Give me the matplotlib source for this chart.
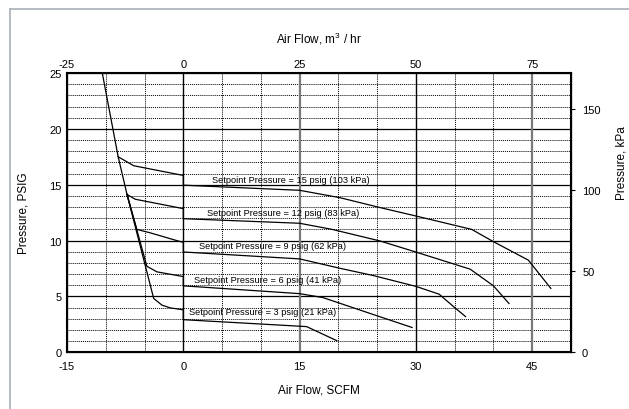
import matplotlib
matplotlib.use("Agg")
import matplotlib.pyplot as plt
from matplotlib.lines import Line2D

plt.rcParams['font.family'] = ['Liberation Sans', 'DejaVu Sans']
plt.rcParams['mathtext.fontset'] = 'custom'
plt.rcParams['mathtext.rm'] = 'Liberation Sans'
plt.rcParams['mathtext.it'] = 'Liberation Sans'
plt.rcParams['axes.unicode_minus'] = False

# ---- data (Air flow SCFM, pressure PSIG) ----
sp15_x = [-10.45, -8.4, -6.4, 0, 0, 15, 20.2, 25.4, 30, 37.2, 40, 44.5, 47.4]
sp15_y = [25, 17.5, 16.7, 15.83, 14.96, 14.5, 13.84, 12.95, 12.2, 11.0, 9.9, 8.25, 5.72]

sp12_x = [-8.4, -7.26, -6.2, 0, 0, 15, 19.2, 25.4, 30.1, 37, 40, 42]
sp12_y = [17.5, 14.13, 13.7, 12.86, 11.96, 11.55, 11.0, 9.96, 8.95, 7.44, 5.95, 4.37]

sp9_x = [-7.26, -6.0, -4.3, -0.6, 0, 0, 15, 20.2, 24.5, 30, 33, 35, 36.4]
sp9_y = [14.13, 11.0, 10.7, 9.95, 9.85, 8.98, 8.36, 7.52, 6.87, 5.9, 5.2, 4.0, 3.2]

sp6_x = [-7.26, -4.7, -3.4, 0, 0, 15, 18, 23.7, 29.5]
sp6_y = [14.13, 7.7, 7.2, 6.78, 5.95, 5.25, 4.9, 3.57, 2.22]

sp3_x = [-7.26, -3.82, -2.75, -1.7, 0, 0, 15.9, 19.8]
sp3_y = [14.13, 4.82, 4.22, 3.98, 3.8, 2.92, 2.3, 1.04]

series_x = [sp15_x, sp12_x, sp9_x, sp6_x, sp3_x]
series_y = [sp15_y, sp12_y, sp9_y, sp6_y, sp3_y]

labels = ["Setpoint Pressure = 15 psig (103 kPa)",
          "Setpoint Pressure = 12 psig (83 kPa)",
          "Setpoint Pressure = 9 psig (62 kPa)",
          "Setpoint Pressure = 6 psig (41 kPa)",
          "Setpoint Pressure = 3 psig (21 kPa)"]
label_x = [13.9, 12.85, 11.47, 10.82, 10.18]
label_y = [15.47, 12.5, 9.58, 6.54, 3.63]

x_ticks = [-15, 0, 15, 30, 45]
y_ticks = [0, 5, 10, 15, 20, 25]
top_ticks = [-25, 0, 25, 50, 75]
right_ticks = [0, 50, 100, 150]

XMIN, XMAX = -15, 50
YMIN, YMAX = 0, 25
M3_PER_SCFM = 25 / 15
KPA_PER_PSI = 6.895

fig = plt.figure(figsize=(6.29, 4.10), dpi=100)
# outer frame
fig.add_artist(Line2D([10/629, 10/629], [0, 1 - 10/410], color='#a9b0b8', lw=1.2, transform=fig.transFigure))
fig.add_artist(Line2D([10/629, 1], [1 - 10/410, 1 - 10/410], color='#a9b0b8', lw=1.2, transform=fig.transFigure))

ax = fig.add_axes([67/629, 1 - 353.3/410, (571 - 67)/629, (353.3 - 74)/410])
ax.set_xlim(XMIN, XMAX)
ax.set_ylim(YMIN, YMAX)

# grid
for yv in range(1, 25):
    if yv % 5 == 0:
        ax.axhline(yv, color='black', lw=0.9, zorder=1)
    else:
        ax.axhline(yv, color='black', lw=0.7, ls=(0, (1, 1)), zorder=1)
for xv in range(-10, 50, 5):
    if xv in (0, 30):
        ax.axvline(xv, color='black', lw=1.0, zorder=1)
    elif xv in (15, 45):
        ax.axvline(xv, color='#7a7a7a', lw=1.6, zorder=1)
    else:
        ax.axvline(xv, color='black', lw=0.7, ls=(0, (1, 1)), zorder=1)

for xs, ys in zip(series_x, series_y):
    ax.plot(xs, ys, color='black', lw=0.9, zorder=3)

for t, tx, ty in zip(labels, label_x, label_y):
    ax.text(tx, ty, t, fontsize=6.7, ha='center', va='center', zorder=4)

ax.set_xticks(x_ticks)
ax.set_yticks(y_ticks)
ax.tick_params(axis='x', labelsize=8, length=0, pad=6)
ax.tick_params(axis='y', labelsize=8, length=0, pad=4)
for s in ax.spines.values():
    s.set_linewidth(1.5)
ax.set_xlabel("Air Flow, SCFM", fontsize=8.5, labelpad=9)
ax.set_ylabel("Pressure, PSIG", fontsize=8.5, labelpad=14)

axt = ax.twiny()
axt.set_xlim(XMIN * M3_PER_SCFM, XMAX * M3_PER_SCFM)
axt.set_xticks(top_ticks)
axt.tick_params(axis='x', labelsize=8, length=0, pad=3)
axt.set_xlabel("Air Flow, m$^3$ / hr", fontsize=8.5, labelpad=12)

axr = ax.twinx()
axr.set_ylim(YMIN * KPA_PER_PSI, YMAX * KPA_PER_PSI)
axr.set_yticks(right_ticks)
axr.tick_params(axis='y', labelsize=8, length=3, pad=5)
axr.set_ylabel("Pressure, kPa", fontsize=8.5)
axr.yaxis.set_label_coords(1.088, 0.68)

fig.savefig("out.png", dpi=100)
